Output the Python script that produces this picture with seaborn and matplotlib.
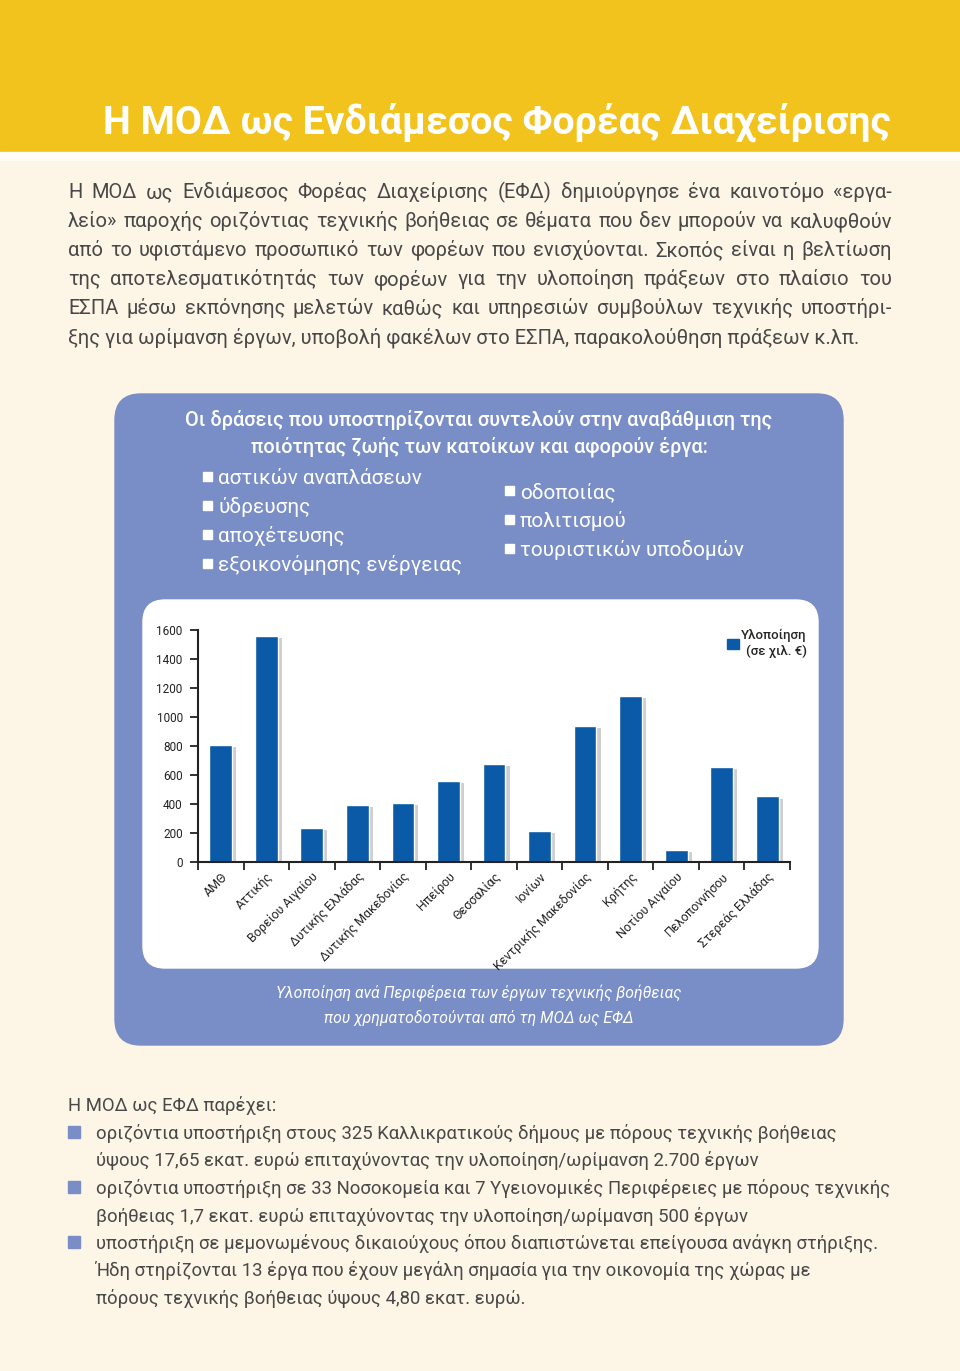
import matplotlib
matplotlib.use("Agg")
import matplotlib.pyplot as plt
import matplotlib.transforms as mtrans
import matplotlib.patheffects as pe
from matplotlib.patches import Rectangle, FancyBboxPatch, Patch
import numpy as np
import pandas as pd
import seaborn as sns

sns.set_style("white")
plt.rcParams['font.family'] = ['Roboto', 'DejaVu Sans']

# chart data (thousand euro per region)
regions = ["ΑΜΘ", "Αττικής", "Βορείου Αιγαίου", "Δυτικής Ελλάδας", "Δυτικής Μακεδονίας",
           "Ηπείρου", "Θεσσαλίας", "Ιονίων", "Κεντρικής Μακεδονίας", "Κρήτης",
           "Νοτίου Αιγαίου", "Πελοποννήσου", "Στερεάς Ελλάδας"]
values = [810, 1560, 236, 392, 405, 560, 675, 217, 940, 1145, 86, 657, 452]
yticks = [0, 200, 400, 600, 800, 1000, 1200, 1400, 1600]

title = "Η ΜΟΔ ως Ενδιάμεσος Φορέας Διαχείρισης"
intro = [
    "Η ΜΟΔ ως Ενδιάμεσος Φορέας Διαχείρισης (ΕΦΔ) δημιούργησε ένα καινοτόμο «εργα-",
    "λείο» παροχής οριζόντιας τεχνικής βοήθειας  σε θέματα που δεν μπορούν να καλυφθούν",
    "από το υφιστάμενο προσωπικό των φορέων που ενισχύονται. Σκοπός είναι η βελτίωση",
    "της αποτελεσματικότητάς των φορέων για την υλοποίηση πράξεων στο πλαίσιο του",
    "ΕΣΠΑ μέσω εκπόνησης μελετών καθώς και υπηρεσιών συμβούλων τεχνικής υποστήρι-",
    "ξης για ωρίμανση έργων, υποβολή φακέλων στο ΕΣΠΑ, παρακολούθηση πράξεων κ.λπ.",
]
box_head = ["Οι δράσεις που υποστηρίζονται συντελούν στην αναβάθμιση της",
            "ποιότητας ζωής των κατοίκων και αφορούν έργα:"]
box_left = ["αστικών αναπλάσεων", "ύδρευσης", "αποχέτευσης", "εξοικονόμησης ενέργειας"]
box_right = ["οδοποιίας", "πολιτισμού", "τουριστικών υποδομών"]
caption = ["Υλοποίηση ανά Περιφέρεια των έργων τεχνικής βοήθειας",
           "που χρηματοδοτούνται από τη ΜΟΔ ως ΕΦΔ"]
list_head = "Η ΜΟΔ ως ΕΦΔ παρέχει:"
list_items = [
    ["οριζόντια υποστήριξη στους 325 Καλλικρατικούς δήμους με πόρους τεχνικής βοήθειας",
     "ύψους 17,65 εκατ. ευρώ επιταχύνοντας την υλοποίηση/ωρίμανση 2.700 έργων"],
    ["οριζόντια υποστήριξη σε 33 Νοσοκομεία και 7 Υγειονομικές Περιφέρειες με πόρους τεχνικής",
     "βοήθειας 1,7 εκατ. ευρώ επιταχύνοντας την υλοποίηση/ωρίμανση 500 έργων"],
    ["υποστήριξη σε μεμονωμένους δικαιούχους όπου διαπιστώνεται επείγουσα ανάγκη στήριξης.",
     "Ήδη στηρίζονται 13 έργα που έχουν μεγάλη σημασία για την οικονομία της χώρας με",
     "πόρους τεχνικής βοήθειας ύψους 4,80 εκατ. ευρώ."],
]

W, H = 960, 1371
yellow = "#f2c21d"
cream = "#fdf5e6"
boxblue = "#798dc7"
barblue = "#0b5aa8"
grey = "#484848"

fig = plt.figure(figsize=(W / 100, H / 100), dpi=100)
fig.patch.set_facecolor(cream)
T = mtrans.Affine2D().scale(1 / W, -1 / H).translate(0, 1) + fig.transFigure
renderer = fig.canvas.get_renderer()


def width_of(s, **kw):
    t = fig.text(0, 0, s, transform=T, **kw)
    w = t.get_window_extent(renderer).width
    t.remove()
    return w


def fit(s, target, **kw):
    return 20 * target / width_of(s, fontsize=20, **kw)


def justified(x0, x1, y, s, **kw):
    words = s.split()
    arts = [fig.text(0, y, w, transform=T, **kw) for w in words]
    ws = [a.get_window_extent(renderer).width for a in arts]
    gap = (x1 - x0 - sum(ws)) / (len(words) - 1)
    x = x0
    for a, w in zip(arts, ws):
        a.set_x(x)
        x += w + gap


# page background pieces
fig.add_artist(Rectangle((0, 0), W, 152, transform=T, color=yellow, zorder=-10))
fig.add_artist(Rectangle((0, 152), W, 8, transform=T, color="#fffdf6", zorder=-10))
fig.add_artist(FancyBboxPatch((115, 394), 728, 651, boxstyle="round,pad=0,rounding_size=26",
                              transform=T, color=boxblue, zorder=-9))
fig.add_artist(FancyBboxPatch((143, 600), 675, 368, boxstyle="round,pad=0,rounding_size=22",
                              transform=T, color="white", zorder=-8))

# title
tkw = dict(fontweight="bold", color="white")
fig.text(103, 134, title, transform=T, fontsize=fit(title, 787, **tkw), **tkw)

# intro paragraph
pkw = dict(fontweight="normal", color=grey)
pkw["fontsize"] = fit(intro[-1], 790, **pkw)
for i, line in enumerate(intro):
    y = 198 + i * 29
    if i < len(intro) - 1:
        justified(68, 892, y, line, **pkw)
    else:
        fig.text(68, y, line, transform=T, **pkw)

# box texts
hkw = dict(fontweight="medium", color="white")
hkw["fontsize"] = fit(box_head[0], 587, **hkw)
for i, line in enumerate(box_head):
    fig.text(479, 426 + i * 27, line, transform=T, ha="center", **hkw)

ikw = dict(fontweight="normal", color="white")
ikw["fontsize"] = fit(box_left[-1], 244, **ikw)
for i, item in enumerate(box_left):
    y = 484 + i * 29
    fig.add_artist(Rectangle((203, y - 12), 9, 9, transform=T, color="white"))
    fig.text(218, y, item, transform=T, **ikw)
for i, item in enumerate(box_right):
    y = 498 + i * 29
    fig.add_artist(Rectangle((505, y - 12), 9, 9, transform=T, color="white"))
    fig.text(520, y, item, transform=T, **ikw)

ckw = dict(fontweight="normal", style="italic", color="white")
ckw["fontsize"] = fit(caption[0], 404, **ckw)
for i, line in enumerate(caption):
    fig.text(479, 999 + i * 24, line, transform=T, ha="center", **ckw)

# bottom list
lkw = dict(fontweight="normal", color=grey)
lkw["fontsize"] = fit(list_items[1][0], 791, **lkw)
fig.text(68, 1111, list_head, transform=T, **lkw)
y = 1139
for item in list_items:
    fig.add_artist(Rectangle((68, y - 13), 12, 12, transform=T, color=boxblue))
    for line in item:
        fig.text(96, y, line, transform=T, **lkw)
        y += 27.5

# bar chart
ax = fig.add_axes([198 / W, 1 - 862 / H, (790 - 198) / W, (862 - 630) / H])
ax.set_facecolor("none")
df = pd.DataFrame({"region": regions, "value": values})
sns.barplot(data=df, x="region", y="value", color=barblue, saturation=1, width=0.5, ax=ax)
for bar in ax.patches:
    bar.set_path_effects([pe.SimplePatchShadow(offset=(3, -1.5), shadow_rgbFace="#888888", alpha=0.4),
                          pe.Normal()])
ax.set_xlim(-0.5, len(regions) - 0.5)
ax.set_ylim(0, 1600)
ax.set_yticks(yticks)
ax.set_xticks(range(len(regions)))
ax.set_xticklabels(regions, rotation=45, ha="right", rotation_mode="anchor")
ax.set_xticks(np.arange(-0.5, len(regions)), minor=True)
ax.tick_params(axis="x", which="major", length=0, pad=6, labelsize=9, labelcolor="#222222")
ax.tick_params(axis="x", which="minor", length=6, width=1.3, direction="out", color="#222222", bottom=True)
ax.tick_params(axis="y", length=6, width=1.3, direction="out", color="#222222", left=True,
               labelsize=8.5, labelcolor="#222222", pad=5)
ax.set_xlabel("")
ax.set_ylabel("")
for s in ["top", "right"]:
    ax.spines[s].set_visible(False)
for s in ["left", "bottom"]:
    ax.spines[s].set_color("#222222")
    ax.spines[s].set_linewidth(1.5)

leg = ax.legend(handles=[Patch(color=barblue)], labels=["Υλοποίηση\n(σε χιλ. €)"],
                loc="upper right", bbox_to_anchor=(812, 624), bbox_transform=T,
                frameon=False, fontsize=9.5, handlelength=0.9, handleheight=0.9,
                handletextpad=0.2, borderaxespad=0)
for t in leg.get_texts():
    t.set_multialignment("right")
    t.set_fontweight("medium")

fig.savefig("out.png", dpi=100, facecolor=cream)
